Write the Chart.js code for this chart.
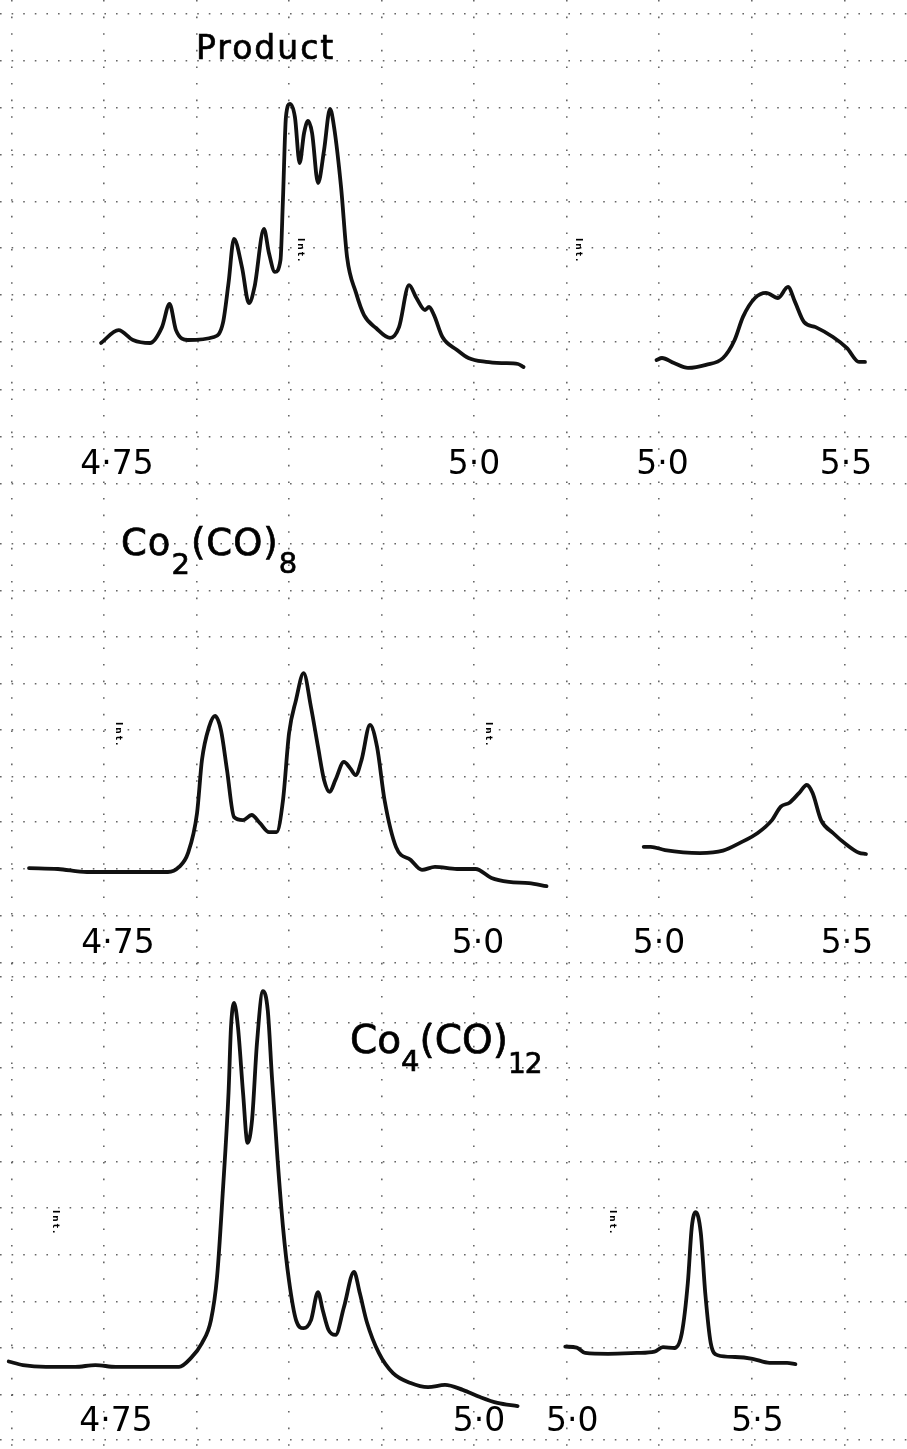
<!DOCTYPE html>
<html>
<head>
<meta charset="utf-8">
<script src="https://cdn.jsdelivr.net/npm/chart.js@4.4.1/dist/chart.umd.min.js"></script>
<style>
  html, body { margin:0; padding:0; background:#fff; }
  body { width:907px; height:1449px; position:relative; overflow:hidden; font-family:"DejaVu Sans", sans-serif; }
  canvas { position:absolute; }
  .title { position:absolute; white-space:nowrap; color:#000; line-height:1; font-family:"DejaVu Sans", sans-serif; -webkit-text-stroke:0.7px #000; }
  .title .sub { position:relative; }
  .int { position:absolute; font-size:9px; font-weight:bold; letter-spacing:2px; transform:rotate(90deg); transform-origin:0 0; color:#000; white-space:nowrap; }
</style>
</head>
<body>
<canvas id="grid" width="907" height="1449" style="left:0;top:0"></canvas>
<canvas id="c1l"></canvas>
<canvas id="c1r"></canvas>
<canvas id="c2l"></canvas>
<canvas id="c2r"></canvas>
<canvas id="c3l"></canvas>
<canvas id="c3r"></canvas>

<div class="title" style="left:196px;top:31px;font-size:33px;letter-spacing:2px">Product</div>
<div class="title" style="left:121px;top:524px;font-size:37px;letter-spacing:1px">Co<span class="sub" style="font-size:29px;top:19px">2</span>(CO)<span class="sub" style="font-size:29px;top:18px">8</span></div>
<div class="title" style="left:350px;top:1020px;font-size:39px;letter-spacing:0px">Co<span class="sub" style="font-size:29px;top:18px">4</span>(CO)<span class="sub" style="font-size:28px;top:20px;letter-spacing:-1px">12</span></div>

<div class="int" style="left:306px;top:238px">Int.</div>
<div class="int" style="left:584px;top:238px">Int.</div>
<div class="int" style="left:124px;top:722px">Int.</div>
<div class="int" style="left:494px;top:722px">Int.</div>
<div class="int" style="left:61px;top:1210px">Int.</div>
<div class="int" style="left:618px;top:1210px">Int.</div>

<script>
// ---------------- DATA ----------------
// wavelength (micron) tick values and labels
const leftTickVals = [4.75, 5.0];
const leftTickLabels = ['4·75', '5·0'];
const rightTickVals = [5.0, 5.5];
const rightTickLabels = ['5·0', '5·5'];

// Product, 4.75–5.0 region
const productLeftX = [4.7388,4.7511,4.7612,4.7731,4.7815,4.7868,4.7913,4.7997,4.8179,4.8242,4.8281,4.8319,4.8375,4.8424,4.8463,4.8529,4.8564,4.8606,4.8645,4.8662,4.8683,4.8711,4.8746,4.8779,4.8810,4.8838,4.8866,4.8908,4.8950,4.8992,4.9020,4.9069,4.9111,4.9174,4.9230,4.9314,4.9412,4.9475,4.9545,4.9597,4.9657,4.9685,4.9720,4.9779,4.9881,4.9961,5.0084,5.0203,5.0308,5.0347];
const productLeftY = [19.0,23.3,20.0,19.0,24.3,32.0,23.3,20.0,21.0,25.7,39.0,53.7,44.3,32.3,37.7,57.0,49.0,42.7,46.7,66.7,94.3,98.7,94.3,79.0,89.0,93.0,89.0,72.3,83.3,97.0,91.0,71.0,47.7,35.7,28.3,24.0,20.7,24.3,38.3,34.0,30.0,31.0,28.3,21.0,16.7,14.0,12.7,12.3,12.0,11.0];
// Product, 5.0–5.5 region
const productRightX = [4.9837,4.9986,5.0313,5.0695,5.1185,5.1649,5.1965,5.2193,5.2520,5.2820,5.3147,5.3420,5.3610,5.3856,5.4172,5.4646,5.5027,5.5354,5.5518];
const productRightY = [13.3,14.0,12.3,10.7,11.7,14.0,20.0,27.7,34.0,35.7,34.0,37.7,32.7,26.0,24.3,21.0,17.3,12.7,12.7];

// Co2(CO)8
const co2LeftX = [4.6882,4.7083,4.7285,4.7486,4.7847,4.7924,4.7986,4.8049,4.8083,4.8132,4.8174,4.8215,4.8257,4.8306,4.8368,4.8428,4.8486,4.8549,4.8601,4.8646,4.8688,4.8736,4.8789,4.8840,4.8889,4.8931,4.8970,4.9010,4.9069,4.9111,4.9151,4.9191,4.9250,4.9299,4.9351,4.9431,4.9533,4.9611,4.9701,4.9854,4.9983,5.0094,5.0215,5.0354,5.0476];
const co2LeftY = [7.3,7.0,6.0,6.0,6.0,7.7,12.3,25.7,43.3,54.3,58.0,53.3,40.0,24.3,23.3,25.0,22.3,19.3,19.3,30.0,52.3,63.3,72.3,61.0,47.7,36.7,32.7,36.7,42.7,40.7,38.3,43.3,55.0,47.7,30.0,14.3,10.0,6.7,7.7,7.0,7.0,4.0,2.7,2.3,1.3];
const co2RightX = [4.9593,4.9779,5.0160,5.1090,5.1702,5.2154,5.2625,5.3005,5.3239,5.3471,5.3723,5.3931,5.4085,5.4309,5.4628,5.5000,5.5319,5.5505];
const co2RightY = [14.4,14.4,13.3,12.3,13.1,15.7,19.0,23.3,27.8,29.1,32.3,35.0,32.3,23.3,19.0,15.0,12.4,12.0];

// Co4(CO)12
const co4LeftX = [4.6761,4.6859,4.7018,4.7218,4.7358,4.7498,4.7697,4.7934,4.8017,4.8092,4.8154,4.8196,4.8235,4.8275,4.8292,4.8313,4.8340,4.8375,4.8406,4.8437,4.8471,4.8512,4.8545,4.8574,4.8613,4.8650,4.8691,4.8740,4.8792,4.8843,4.8891,4.8924,4.8964,4.9012,4.9070,4.9139,4.9179,4.9229,4.9310,4.9408,4.9529,4.9649,4.9766,4.9888,5.0007,5.0127,5.0266];
const co4LeftY = [13.0,12.2,11.8,11.8,12.2,11.8,11.8,11.8,13.8,17.1,22.2,31.8,50.4,72.7,87.3,92.7,87.3,72.7,61.6,66.7,83.8,95.3,91.1,76.2,57.8,42.9,31.1,22.2,20.4,22.2,28.4,24.4,20.0,18.9,25.1,32.9,28.2,21.6,14.9,10.4,8.2,7.3,7.8,6.7,5.1,3.8,3.1];
const co4RightX = [4.9812,5.0121,5.0349,5.0968,5.1747,5.2220,5.2446,5.2763,5.2957,5.3118,5.3226,5.3333,5.3468,5.3589,5.3737,5.3925,5.4395,5.4866,5.5323,5.5796,5.6022];
const co4RightY = [16.3,16.1,14.9,14.7,14.9,15.2,16.2,16.0,19.3,30.4,42.9,46.2,41.6,28.2,17.1,14.4,14.0,13.6,12.7,12.7,12.4];

// ---------------- LAYOUT (page pixels) ----------------
const panels = [
  { id:'c1l', x:productLeftX, y:productLeftY, ticks:leftTickVals,  labels:leftTickLabels,  left:0,   top:0,   width:545, height:490, axisH:50, t1px:117,   t2px:474, zeroPx:400,  ppu:3 },
  { id:'c1r', x:productRightX, y:productRightY, ticks:rightTickVals, labels:rightTickLabels, left:545, top:0,   width:362, height:490, axisH:50, t1px:662.5, t2px:846, zeroPx:400,  ppu:3 },
  { id:'c2l', x:co2LeftX, y:co2LeftY, ticks:leftTickVals,  labels:leftTickLabels,  left:0,   top:490, width:560, height:480, axisH:51, t1px:118,   t2px:478, zeroPx:890,  ppu:3 },
  { id:'c2r', x:co2RightX, y:co2RightY, ticks:rightTickVals, labels:rightTickLabels, left:560, top:490, width:347, height:480, axisH:51, t1px:659,   t2px:847, zeroPx:890,  ppu:3 },
  { id:'c3l', x:co4LeftX, y:co4LeftY, ticks:leftTickVals,  labels:leftTickLabels,  left:0,   top:970, width:540, height:479, axisH:52, t1px:116,   t2px:479, zeroPx:1420, ppu:4.5 },
  { id:'c3r', x:co4RightX, y:co4RightY, ticks:rightTickVals, labels:rightTickLabels, left:540, top:970, width:367, height:479, axisH:52, t1px:571,   t2px:757, zeroPx:1420, ppu:4.5 }
];

const gridXLines = [12, 104, 197, 289, 382, 474, 567, 659, 752, 845];
const gridYLines = [14, 61, 108, 155, 202, 248, 295, 342, 390, 437, 484, 544, 591, 637, 684, 730, 777, 822, 869, 916, 963, 977, 1023, 1068, 1115, 1162, 1208, 1255, 1302, 1348, 1395, 1440];

const INK = '#111';
const tickFont = { family: "'DejaVu Sans', sans-serif", size: 33 };

// ---------------- background graph-paper grid ----------------
new Chart(document.getElementById('grid'), {
  type: 'scatter',
  data: { datasets: [{ data: [] }] },
  options: {
    responsive:false, animation:false, devicePixelRatio:1,
    layout:{ padding:0 },
    plugins:{ legend:{display:false}, tooltip:{enabled:false} },
    scales:{
      x:{ type:'linear', min:0, max:907,
          afterBuildTicks:s=>{ s.ticks = gridXLines.map(v=>({value:v})); },
          afterFit:s=>{ s.height = 0; },
          ticks:{ display:false },
          grid:{ color:'rgba(0,0,0,0.6)', lineWidth:1.6, drawTicks:false },
          border:{ display:false, dash:[1.6, 15] } },
      y:{ type:'linear', min:0, max:1449, reverse:true,
          afterBuildTicks:s=>{ s.ticks = gridYLines.map(v=>({value:v})); },
          afterFit:s=>{ s.width = 0; },
          ticks:{ display:false },
          grid:{ color:'rgba(0,0,0,0.6)', lineWidth:1.6, drawTicks:false },
          border:{ display:false, dash:[1.6, 10] } }
    }
  }
});

// ---------------- spectra panels ----------------
panels.forEach(p => {
  const cv = document.getElementById(p.id);
  cv.width = p.width; cv.height = p.height;
  cv.style.left = p.left + 'px'; cv.style.top = p.top + 'px';
  const perPx = (p.ticks[1] - p.ticks[0]) / (p.t2px - p.t1px);
  const xMin = p.ticks[0] - (p.t1px - p.left) * perPx;
  const xMax = p.ticks[0] + (p.left + p.width - p.t1px) * perPx;
  const areaBottom = p.top + p.height - p.axisH;
  const yMax = (p.zeroPx - p.top) / p.ppu;
  const yMin = (p.zeroPx - areaBottom) / p.ppu;
  const pts = p.x.map((xv, i) => ({ x: xv, y: p.y[i] }));
  new Chart(cv, {
    type: 'line',
    data: { datasets: [{ data: pts, borderColor: INK, borderWidth: 3.8, pointRadius: 0,
                         cubicInterpolationMode: 'monotone', fill: false, clip: false,
                         borderCapStyle:'round', borderJoinStyle:'round' }] },
    options: {
      responsive:false, animation:false, devicePixelRatio:1,
      layout:{ padding:0 },
      plugins:{ legend:{display:false}, tooltip:{enabled:false} },
      scales:{
        x:{ type:'linear', position:'bottom', min:xMin, max:xMax,
            afterBuildTicks:s=>{ s.ticks = p.ticks.map(v=>({value:v})); },
            afterFit:s=>{ s.height = p.axisH; },
            grid:{ display:false, drawTicks:false },
            border:{ display:false },
            ticks:{ autoSkip:false, maxRotation:0, minRotation:0, padding:6, color:'#000', font:tickFont,
                    callback:(v, i)=> p.labels[i] } },
        y:{ display:false, min:yMin, max:yMax }
      }
    }
  });
});
</script>
</body>
</html>
